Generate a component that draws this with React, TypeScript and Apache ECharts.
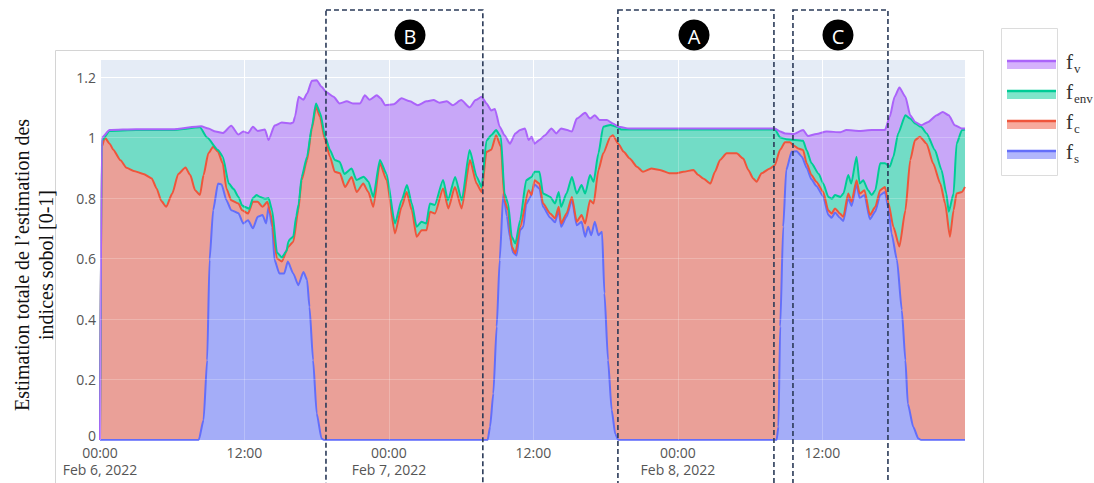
import React, { useEffect, useRef } from 'react';
import * as echarts from 'echarts';

// x values are hours since Feb 6, 2022 00:00
const X_MAX = 71.85;
const Y_MAX = 1.26;
const xTickLabels = ['00:00\nFeb 6, 2022', '12:00', '00:00\nFeb 7, 2022', '12:00', '00:00\nFeb 8, 2022', '12:00'];

const seriesNames = ['f_v', 'f_env', 'f_c', 'f_s'];
const lineColors = ['#ab63fa', '#00cc96', '#ef553b', '#636efa'];
const fillColors = ['#c8a7f8', '#72dcc6', '#eaa098', '#a4adf8'];
const legendSubs = ['v', 'env', 'c', 's'];

const fV: [number, number][] = [[0,0],[0.15,1.0],[0.8,1.025],[3,1.028],[6,1.028],[8.4,1.038],[9.0,1.03],[9.6,1.02],[10.2,1.015],[10.9,1.039],[11.5,1.01],[11.9,1.02],[12.3,1.015],[12.7,1.036],[13.1,1.022],[13.7,1.027],[14.0,0.992],[14.5,1.04],[15.1,1.05],[15.8,1.047],[16.05,1.05],[16.2,1.07],[16.5,1.135],[16.9,1.125],[17.2,1.146],[17.6,1.188],[18.0,1.19],[18.4,1.168],[18.8,1.15],[19.4,1.135],[19.9,1.113],[20.5,1.12],[21.0,1.113],[21.6,1.113],[22.0,1.14],[22.4,1.125],[23.0,1.14],[23.3,1.13],[23.7,1.107],[24.4,1.11],[25.05,1.13],[25.75,1.12],[26.4,1.107],[27.1,1.12],[27.7,1.124],[28.2,1.115],[28.8,1.12],[29.3,1.107],[30.0,1.124],[30.7,1.1],[31.2,1.124],[31.7,1.135],[32.1,1.113],[32.5,1.09],[32.8,1.095],[33.2,1.036],[33.6,1.008],[34.05,0.98],[34.5,1.014],[34.9,1.025],[35.3,1.03],[35.6,0.992],[35.85,1.003],[36.1,0.98],[36.5,0.992],[36.96,1.008],[37.5,1.03],[37.9,1.014],[38.3,1.03],[38.8,1.025],[39.2,1.02],[39.6,1.063],[40.3,1.082],[40.7,1.063],[41.1,1.074],[41.5,1.058],[42.1,1.058],[42.6,1.047],[43.05,1.036],[44,1.03],[56.06,1.03],[56.5,1.02],[56.9,1.014],[57.6,1.012],[58.4,1.025],[58.8,1.005],[59.5,1.012],[60.35,1.02],[61.5,1.018],[62.0,1.025],[63.1,1.022],[64.1,1.025],[65.2,1.025],[65.6,1.069],[66.0,1.135],[66.4,1.166],[66.9,1.135],[67.3,1.074],[67.7,1.052],[68.2,1.041],[68.8,1.052],[69.5,1.074],[70.0,1.085],[70.5,1.074],[71.0,1.041],[71.6,1.03],[71.85,1.03]];

const fEnv: [number, number][] = [[0,0],[0.15,0.99],[0.8,1.022],[3,1.025],[6,1.025],[8.3,1.034],[8.9,1.0],[9.8,0.959],[10.2,0.937],[10.7,0.848],[11.1,0.83],[11.5,0.804],[11.8,0.776],[12.0,0.771],[12.4,0.765],[12.7,0.8],[13.0,0.81],[13.3,0.804],[13.7,0.798],[14.0,0.8],[14.3,0.76],[14.7,0.62],[15.1,0.604],[15.5,0.625],[15.64,0.656],[15.8,0.665],[16.05,0.672],[16.3,0.74],[16.5,0.78],[16.75,0.87],[17.2,0.937],[17.6,1.036],[17.94,1.113],[18.3,1.08],[18.7,1.003],[19.1,0.959],[19.5,0.926],[19.9,0.92],[20.3,0.88],[20.9,0.898],[21.3,0.86],[21.9,0.871],[22.3,0.854],[22.7,0.804],[23.25,0.926],[23.8,0.88],[24.5,0.716],[25.05,0.793],[25.5,0.843],[25.9,0.782],[26.3,0.705],[26.7,0.722],[27.1,0.716],[27.4,0.782],[27.8,0.777],[28.5,0.86],[28.9,0.793],[29.5,0.87],[30.05,0.793],[30.7,0.959],[31.3,0.87],[31.7,0.837],[32.1,0.99],[32.5,1.008],[32.9,1.025],[33.3,1.003],[33.6,0.815],[33.9,0.782],[34.2,0.672],[34.5,0.65],[34.9,0.727],[35.4,0.859],[35.85,0.87],[36.1,0.887],[36.5,0.887],[36.8,0.815],[37.4,0.804],[37.8,0.782],[38.1,0.82],[38.3,0.771],[38.75,0.815],[39.2,0.87],[39.6,0.815],[40.0,0.843],[40.3,0.815],[40.7,0.876],[41.0,0.854],[41.4,0.948],[41.8,1.036],[42.4,1.042],[42.9,1.036],[43.3,1.027],[44,1.027],[56.06,1.027],[56.5,1.0],[57.0,0.995],[58.4,0.99],[58.7,0.958],[59.1,0.915],[59.7,0.88],[60.07,0.848],[60.5,0.804],[60.8,0.798],[61.05,0.81],[61.5,0.804],[61.75,0.815],[62.15,0.876],[62.4,0.848],[62.84,0.937],[63.1,0.848],[63.4,0.859],[63.8,0.826],[64.1,0.81],[64.4,0.826],[64.8,0.915],[65.2,0.915],[65.6,0.904],[65.9,0.937],[66.3,1.014],[66.9,1.074],[67.3,1.063],[67.7,1.047],[68.2,1.036],[68.66,1.014],[69.35,0.959],[69.9,0.893],[70.3,0.815],[70.5,0.755],[70.9,0.815],[71.15,0.98],[71.6,1.025],[71.85,1.027]];

const fC: [number, number][] = [[0,0],[0.15,0.97],[0.4,1.0],[0.8,0.98],[1.1,0.96],[1.7,0.925],[2.2,0.9],[2.8,0.89],[3.6,0.88],[4.3,0.865],[4.7,0.832],[5.1,0.79],[5.5,0.771],[6.0,0.815],[6.5,0.88],[7.1,0.901],[7.5,0.876],[7.9,0.826],[8.3,0.81],[8.6,0.876],[9.0,0.948],[9.4,0.97],[9.8,0.953],[10.2,0.915],[10.5,0.832],[10.9,0.793],[11.5,0.782],[11.8,0.76],[12.3,0.749],[12.7,0.788],[13.1,0.788],[13.5,0.771],[13.9,0.788],[14.2,0.744],[14.7,0.6],[15.1,0.59],[15.64,0.639],[16.06,0.656],[16.47,0.76],[16.75,0.86],[17.2,0.926],[17.6,1.03],[17.94,1.102],[18.27,1.069],[18.69,0.992],[19.1,0.937],[19.5,0.887],[19.93,0.882],[20.35,0.837],[20.9,0.87],[21.32,0.82],[21.87,0.848],[22.29,0.82],[22.7,0.771],[23.25,0.915],[23.81,0.859],[24.5,0.683],[25.05,0.771],[25.47,0.82],[25.9,0.76],[26.3,0.672],[26.72,0.694],[27.13,0.694],[27.41,0.755],[27.82,0.749],[28.5,0.832],[28.93,0.766],[29.48,0.837],[30.04,0.766],[30.73,0.926],[31.28,0.848],[31.7,0.82],[32.1,0.953],[32.5,0.96],[32.9,1.008],[33.3,0.97],[33.6,0.793],[33.9,0.76],[34.2,0.64],[34.5,0.617],[34.9,0.705],[35.6,0.826],[35.85,0.81],[36.1,0.859],[36.5,0.848],[36.8,0.782],[37.4,0.749],[37.8,0.733],[38.1,0.771],[38.3,0.716],[38.75,0.749],[39.2,0.804],[39.6,0.722],[40.0,0.744],[40.3,0.716],[40.7,0.793],[41.0,0.782],[41.4,0.892],[41.8,0.948],[42.4,1.003],[42.6,1.008],[43.05,0.98],[43.5,0.953],[44.0,0.931],[44.6,0.904],[45.1,0.887],[45.8,0.898],[46.5,0.893],[47.34,0.882],[47.9,0.882],[48.45,0.887],[49.3,0.893],[49.7,0.876],[50.1,0.865],[50.7,0.848],[51.08,0.887],[51.5,0.926],[52.05,0.948],[52.88,0.948],[53.43,0.931],[53.85,0.893],[54.26,0.865],[54.54,0.854],[54.95,0.882],[55.65,0.898],[56.06,0.909],[56.48,0.959],[56.9,0.985],[57.3,0.985],[57.58,0.975],[58.0,0.964],[58.4,0.959],[58.7,0.915],[59.1,0.876],[59.5,0.854],[60.07,0.821],[60.49,0.76],[60.77,0.749],[61.05,0.766],[61.46,0.749],[61.74,0.738],[62.15,0.815],[62.43,0.788],[62.84,0.859],[63.1,0.815],[63.5,0.826],[63.95,0.744],[64.4,0.771],[64.8,0.826],[65.2,0.837],[65.5,0.782],[65.9,0.705],[66.4,0.64],[66.9,0.76],[67.3,0.926],[67.7,0.992],[68.1,1.003],[68.66,0.98],[69.2,0.915],[69.8,0.848],[70.2,0.782],[70.6,0.672],[70.9,0.76],[71.15,0.815],[71.6,0.82],[71.85,0.837]];

const fS: [number, number][] = [[0,0],[8.2,0],[8.6,0.066],[8.9,0.264],[9.1,0.595],[9.4,0.76],[9.8,0.848],[10.1,0.845],[10.5,0.793],[10.9,0.76],[11.5,0.75],[11.9,0.716],[12.3,0.727],[12.7,0.7],[13.1,0.738],[13.5,0.744],[13.8,0.716],[14.0,0.771],[14.3,0.705],[14.5,0.595],[14.9,0.551],[15.3,0.551],[15.6,0.59],[16.05,0.551],[16.47,0.512],[16.9,0.556],[17.2,0.53],[17.4,0.44],[17.7,0.264],[18.0,0.088],[18.4,0.005],[18.6,0],[32.2,0],[32.4,0.044],[32.67,0.154],[32.95,0.375],[33.2,0.595],[33.5,0.815],[33.8,0.74],[34.05,0.672],[34.3,0.62],[34.6,0.61],[34.9,0.694],[35.16,0.705],[35.4,0.78],[35.7,0.8],[36.1,0.845],[36.5,0.832],[36.8,0.771],[37.4,0.735],[37.8,0.72],[38.1,0.76],[38.3,0.705],[38.75,0.738],[39.2,0.793],[39.6,0.71],[40.0,0.722],[40.3,0.672],[40.55,0.705],[40.8,0.677],[41.1,0.722],[41.4,0.677],[41.7,0.689],[41.9,0.485],[42.2,0.264],[42.5,0.1],[42.8,0.02],[43.05,0],[56.2,0],[56.35,0.044],[56.5,0.375],[56.75,0.705],[57.0,0.893],[57.45,0.953],[57.86,0.955],[58.3,0.937],[58.7,0.9],[59.1,0.862],[59.5,0.84],[60.07,0.806],[60.49,0.745],[60.77,0.735],[61.05,0.752],[61.46,0.735],[61.74,0.724],[62.15,0.8],[62.43,0.774],[62.84,0.845],[63.1,0.8],[63.5,0.81],[63.95,0.73],[64.4,0.756],[64.8,0.81],[65.2,0.82],[65.5,0.765],[65.75,0.683],[66.2,0.595],[66.6,0.43],[66.9,0.264],[67.1,0.12],[67.55,0.044],[67.97,0.005],[68.2,0],[71.85,0]];

const seriesData = [fV, fEnv, fC, fS];

// annotated zones (hours)
const zoneLabels = ['B', 'A', 'C'];
const zoneStarts = [18.77, 43.02, 57.56];
const zoneEnds = [31.8, 55.98, 65.45];
const zoneLabelAt = [25.75, 49.34, 61.3];

const yTitleLines = ['Estimation totale de l\u2019estimation des', 'indices sobol [0-1]'];

const GRID = { left: 100, right: 129, top: 59, bottom: 43 };

export default function App() {
  const ref = useRef<HTMLDivElement>(null);
  useEffect(() => {
    const chart = echarts.init(ref.current as HTMLDivElement, null, { renderer: 'svg' });
    const labelStyle = { color: '#555', fontSize: 14, fontFamily: 'Open Sans' };
    const smooth = 0.2;
    const areaSeries = seriesData.map((d, i) => ({
      type: 'line', name: seriesNames[i] + '_area', data: d, xAxisIndex: 0, yAxisIndex: 0,
      showSymbol: false, smooth, smoothMonotone: 'x', silent: true,
      lineStyle: { width: 0, opacity: 0 }, areaStyle: { color: fillColors[i], opacity: 1 }, z: 2,
    }));
    const lineSeries = [3, 2, 1, 0].map((i) => ({
      type: 'line', name: seriesNames[i], data: seriesData[i], xAxisIndex: 0, yAxisIndex: 0,
      showSymbol: false, smooth, smoothMonotone: 'x', silent: true,
      lineStyle: { width: 2, color: lineColors[i] }, z: 3,
    }));
    const axisCommon = { axisLine: { show: false }, axisTick: { show: false } };
    chart.setOption({
      animation: false,
      grid: [
        { ...GRID, show: true, backgroundColor: '#e5ecf6', borderWidth: 0 },
        { ...GRID, show: false },
      ],
      xAxis: [
        {
          type: 'value', gridIndex: 0, min: 0, max: X_MAX, interval: 12, ...axisCommon,
          splitLine: { show: true, lineStyle: { color: '#ffffff', width: 1 } },
          axisLabel: {
            ...labelStyle, lineHeight: 17, margin: 4, showMaxLabel: false,
            formatter: (v: number) => xTickLabels[Math.round(v / 12)] ?? '',
          },
        },
        {
          type: 'value', gridIndex: 1, min: 0, max: X_MAX, interval: 12, ...axisCommon, z: 10,
          splitLine: { show: true, lineStyle: { color: 'rgba(255,255,255,0.22)', width: 1 } },
          axisLabel: { show: false },
        },
      ],
      yAxis: [
        {
          type: 'value', gridIndex: 0, min: 0, max: Y_MAX, interval: 0.2, ...axisCommon,
          splitLine: { show: true, lineStyle: { color: '#ffffff', width: 1 } },
          axisLabel: {
            ...labelStyle, margin: 4, showMaxLabel: false,
            formatter: (v: number) => (v === 0 ? '{z|0}' : String(Math.round(v * 10) / 10)),
            rich: { z: { ...labelStyle, padding: [0, 0, 10, 0] } },
          },
        },
        {
          type: 'value', gridIndex: 1, min: 0, max: Y_MAX, interval: 0.2, ...axisCommon, z: 10,
          splitLine: { show: true, lineStyle: { color: 'rgba(255,255,255,0.22)', width: 1 } },
          axisLabel: { show: false },
        },
      ],
      series: [...areaSeries, ...lineSeries],
    });

    const graphics: any[] = [];
    // figure frame
    graphics.push({ type: 'rect', shape: { x: 55.5, y: 50.5, width: 928, height: 460 }, style: { fill: 'none', stroke: '#d4d4d4', lineWidth: 1 }, z: 50 });
    // y title
    yTitleLines.forEach((t, i) => {
      graphics.push({
        type: 'text', x: 22 + i * 23.5, y: 265, rotation: Math.PI / 2,
        style: { text: t, fontFamily: 'Liberation Serif', fontSize: 20, fill: '#111', align: 'center', verticalAlign: 'middle' }, z: 50,
      });
    });
    // legend
    graphics.push({ type: 'rect', shape: { x: 1001.5, y: 28.5, width: 56, height: 147 }, style: { fill: '#fff', stroke: '#dcdcdc', lineWidth: 1 }, z: 50 });
    legendSubs.forEach((sub, i) => {
      const y = 60 + i * 30;
      graphics.push({ type: 'rect', shape: { x: 1007, y, width: 49, height: 9 }, style: { fill: echarts.color.modifyAlpha(lineColors[i], 0.5) }, z: 51 });
      graphics.push({ type: 'line', shape: { x1: 1007, y1: y + 1, x2: 1056, y2: y + 1 }, style: { stroke: lineColors[i], lineWidth: 2.5 }, z: 52 });
      graphics.push({ type: 'text', x: 1066, y: y + 2, style: { text: 'f', fontFamily: 'Liberation Serif', fontSize: 21, fill: '#333', verticalAlign: 'middle' }, z: 52 });
      graphics.push({ type: 'text', x: 1074, y: y + 8, style: { text: sub, fontFamily: 'Liberation Serif', fontSize: 13, fill: '#333', verticalAlign: 'middle' }, z: 52 });
    });
    // annotation zones
    zoneLabels.forEach((lab, i) => {
      const x0 = chart.convertToPixel({ xAxisIndex: 0 }, zoneStarts[i]) as number;
      const x1 = chart.convertToPixel({ xAxisIndex: 0 }, zoneEnds[i]) as number;
      const cx = chart.convertToPixel({ xAxisIndex: 0 }, zoneLabelAt[i]) as number;
      graphics.push({ type: 'rect', shape: { x: x0, y: 10, width: x1 - x0, height: 490 }, style: { fill: 'none', stroke: '#2a3a58', lineWidth: 1.6, lineDash: [5, 3] }, z: 100 });
      graphics.push({ type: 'circle', shape: { cx, cy: 35, r: 15.5 }, style: { fill: '#000' }, z: 101 });
      graphics.push({ type: 'text', x: cx, y: 36, style: { text: lab, fontFamily: 'Open Sans', fontSize: 20, fill: '#fff', align: 'center', verticalAlign: 'middle' }, z: 102 });
    });
    chart.setOption({ graphic: { elements: graphics } });
    return () => chart.dispose();
  }, []);
  return <div ref={ref} style={{ position: 'absolute', left: 0, top: 0, width: 1094, height: 483 }} />;
}
